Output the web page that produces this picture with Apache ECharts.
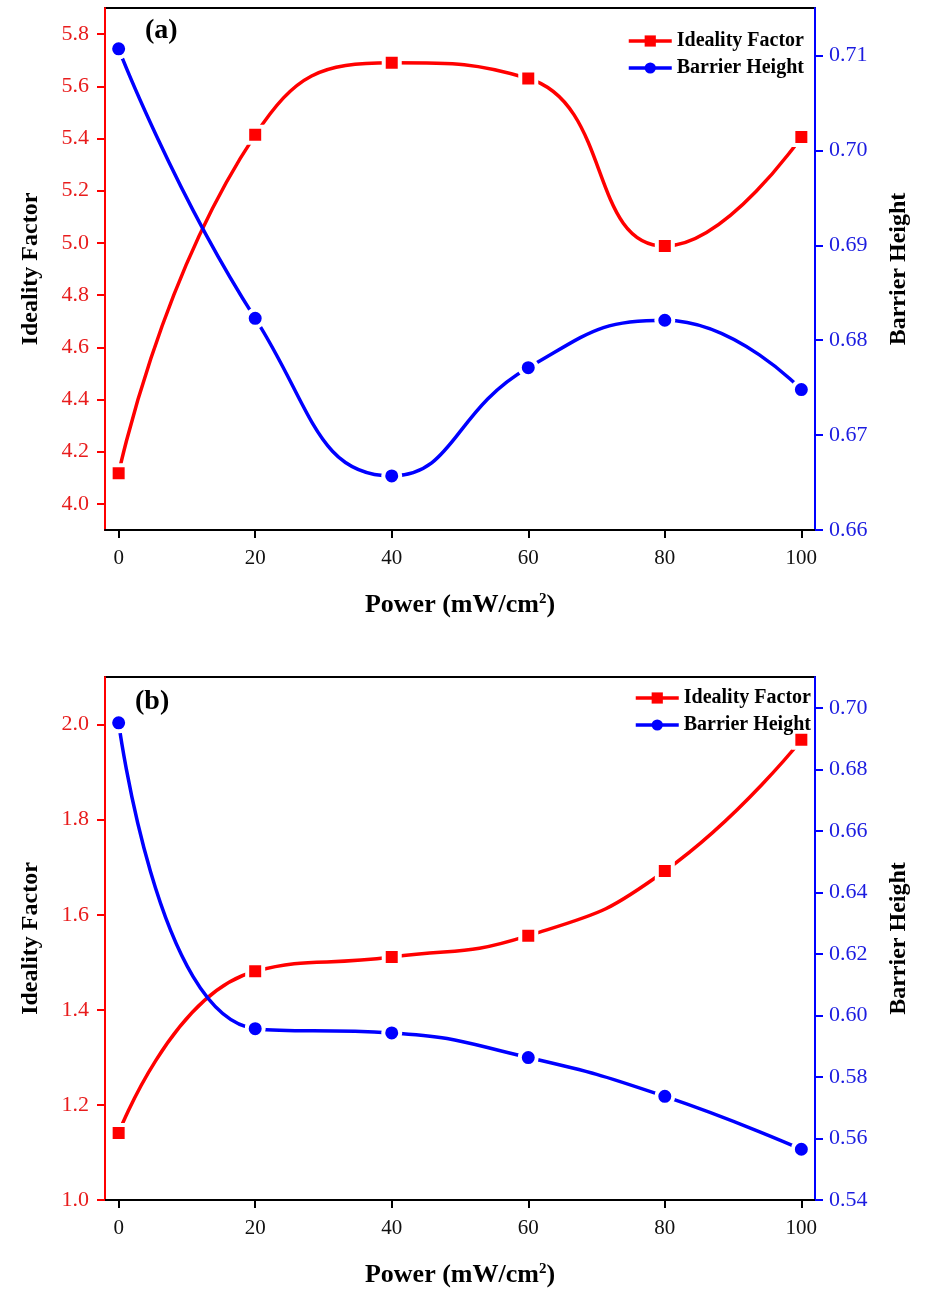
<!DOCTYPE html>
<html>
<head>
<meta charset="utf-8">
<script src="https://cdn.jsdelivr.net/npm/echarts@6/dist/echarts.min.js"></script>
<style>
html,body{margin:0;padding:0;background:#fff;}
#chart{width:925px;height:1294px;}
</style>
</head>
<body>
<div id="chart"></div>
<script>
// ---- data ----
const powers = [0, 20, 40, 60, 80, 100];
const idealityA = [4.117, 5.414, 5.690, 5.630, 4.988, 5.406];
const barrierA = [0.7107, 0.6823, 0.6657, 0.6771, 0.6821, 0.6748];
const idealityB = [1.141, 1.481, 1.511, 1.556, 1.692, 1.968];
const barrierB = [0.6951, 0.5957, 0.5943, 0.5863, 0.5737, 0.5565];

// ---- tick labels ----
const xTicks = [0, 20, 40, 60, 80, 100];
const leftTicksA = [4.0, 4.2, 4.4, 4.6, 4.8, 5.0, 5.2, 5.4, 5.6, 5.8];
const rightTicksA = [0.66, 0.67, 0.68, 0.69, 0.70, 0.71];
const leftTicksB = [1.0, 1.2, 1.4, 1.6, 1.8, 2.0];
const rightTicksB = [0.54, 0.56, 0.58, 0.60, 0.62, 0.64, 0.66, 0.68, 0.70];

const RED = '#ff0000', BLUE = '#0000ff';
const RED_TXT = '#e81c1c', BLUE_TXT = '#1c1ce0';
const FONT = '"Liberation Serif", "Times New Roman", serif';

const pair = (xs, ys) => xs.map((x, i) => [x, ys[i]]);

function xAxis(gridIndex) {
  return {
    type: 'value', gridIndex, min: -2, max: 102,
    name: '{a|Power (mW/cm}{s|2}{a|)}',
    nameLocation: 'middle', nameGap: 62,
    nameTextStyle: {
      rich: {
        a: {fontFamily: FONT, fontWeight: 'bold', fontSize: 26, color: '#000'},
        s: {fontFamily: FONT, fontWeight: 'bold', fontSize: 15, color: '#000', verticalAlign: 'top', padding: [0, 0, 12, 0]}
      }
    },
    axisLine: {show: true, onZero: false, lineStyle: {color: '#000', width: 2}},
    axisTick: {show: true, inside: false, length: 8, customValues: xTicks, lineStyle: {color: '#000', width: 2}},
    axisLabel: {customValues: xTicks, margin: 18, fontFamily: FONT, fontSize: 21, color: '#111'},
    splitLine: {show: false}
  };
}

function yAxis(gridIndex, pos, min, max, ticks, color, txtColor, name, digits, gap) {
  return {
    type: 'value', gridIndex, position: pos, min, max,
    name, nameLocation: 'middle', nameGap: gap, nameRotate: 90,
    nameTextStyle: {fontFamily: FONT, fontWeight: 'bold', fontSize: 24, color: '#000'},
    axisLine: {show: true, onZero: false, lineStyle: {color, width: 2}},
    axisTick: {show: true, inside: false, length: 8, customValues: ticks, lineStyle: {color, width: 2}},
    axisLabel: {customValues: ticks, margin: pos === 'left' ? 16 : 14, fontFamily: FONT, fontSize: 22, color: txtColor,
      formatter: v => v.toFixed(digits)},
    splitLine: {show: false}
  };
}

function series(name, x, y, xi, yi, color, symbol, size) {
  return {
    name, type: 'line', xAxisIndex: xi, yAxisIndex: yi,
    data: pair(x, y), smooth: 0.5,
    symbol, symbolSize: size, showSymbol: true,
    lineStyle: {color, width: 3.5},
    itemStyle: {color, borderColor: '#fff', borderWidth: 4},
    emphasis: {disabled: true}
  };
}

const legendCommon = {
  orient: 'vertical', itemWidth: 43, itemHeight: 14, itemGap: 7,
  textStyle: {fontFamily: FONT, fontWeight: 'bold', fontSize: 20, color: '#000'},
  itemStyle: {borderWidth: 0},
  lineStyle: {width: 3.5},
  data: ['Ideality Factor', 'Barrier Height']
};

const option = {
  animation: false,
  backgroundColor: '#fff',
  grid: [
    {left: 105, right: 110, top: 8, height: 522, show: true, borderColor: '#000', borderWidth: 2, backgroundColor: 'transparent'},
    {left: 105, right: 110, top: 677, height: 523, show: true, borderColor: '#000', borderWidth: 2, backgroundColor: 'transparent'}
  ],
  xAxis: [xAxis(0), xAxis(1)],
  yAxis: [
    yAxis(0, 'left', 3.9, 5.9, leftTicksA, RED, RED_TXT, 'Ideality Factor', 1, 62),
    yAxis(0, 'right', 0.66, 0.715, rightTicksA, BLUE, BLUE_TXT, 'Barrier Height', 2, 72),
    yAxis(1, 'left', 1.0, 2.1, leftTicksB, RED, RED_TXT, 'Ideality Factor', 1, 62),
    yAxis(1, 'right', 0.54, 0.71, rightTicksB, BLUE, BLUE_TXT, 'Barrier Height', 2, 72)
  ],
  legend: [
    Object.assign({left: 622, top: 26}, legendCommon),
    Object.assign({left: 629, top: 683}, legendCommon)
  ],
  graphic: [
    {type: 'text', left: 145, top: 17, style: {text: '(a)', font: 'bold 28px ' + FONT, fill: '#000'}},
    {type: 'text', left: 135, top: 688, style: {text: '(b)', font: 'bold 28px ' + FONT, fill: '#000'}}
  ],
  series: [
    series('Ideality Factor', powers, idealityA, 0, 0, RED, 'rect', 16),
    series('Barrier Height', powers, barrierA, 0, 1, BLUE, 'circle', 17),
    series('Ideality Factor', powers, idealityB, 1, 2, RED, 'rect', 16),
    series('Barrier Height', powers, barrierB, 1, 3, BLUE, 'circle', 17)
  ]
};

const chart = echarts.init(document.getElementById('chart'), null, {renderer: 'canvas'});
chart.setOption(option);
</script>
</body>
</html>
